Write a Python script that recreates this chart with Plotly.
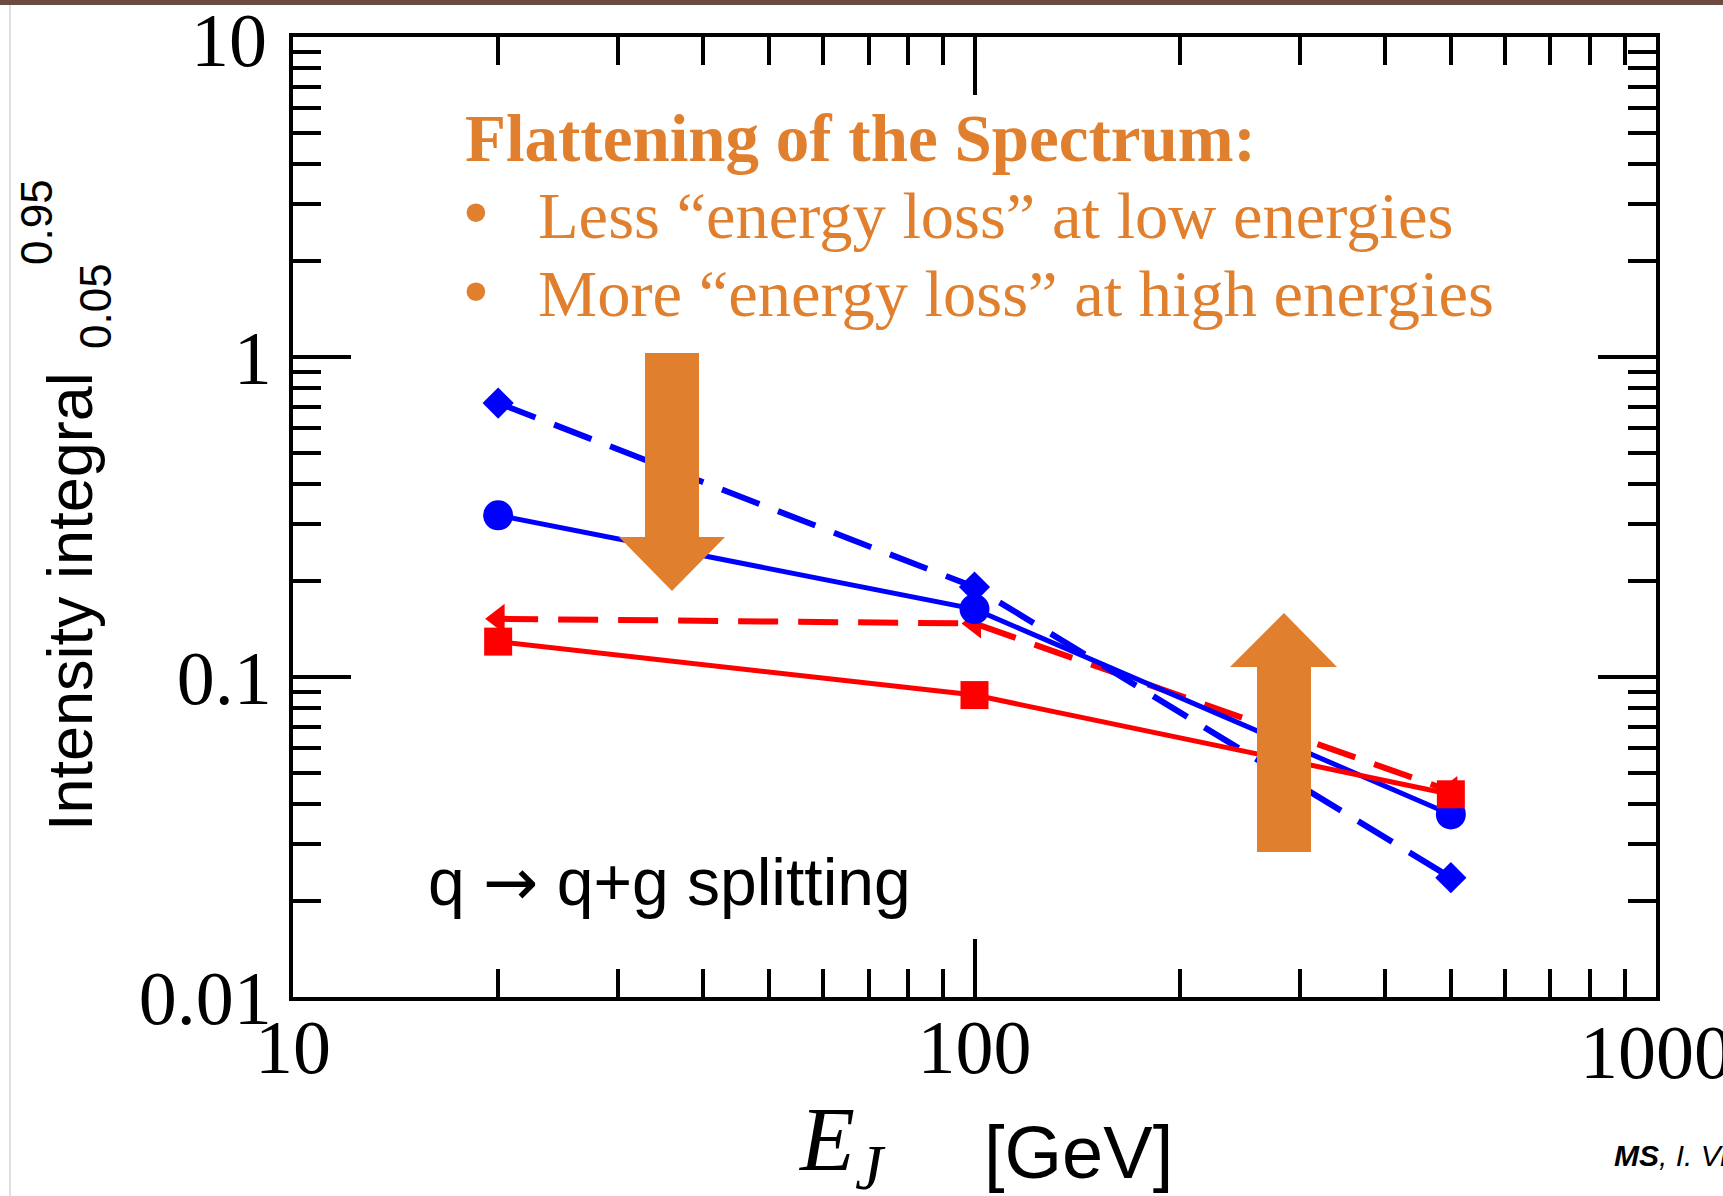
import plotly.graph_objects as go

# Jet energy (GeV) and the 5%-95% intensity integral for each configuration
energy = [20, 100, 500]
blue_solid = [0.32, 0.163, 0.0372]     # circles
blue_dashed = [0.718, 0.191, 0.0236]   # diamonds
red_dashed = [0.152, 0.147, 0.044]     # left triangles
red_solid = [0.129, 0.0878, 0.043]     # squares

# Decade labels; the two at the far corners are placed as annotations on the
# same axes so that the part running past the page edge is simply clipped.
x_tick_vals = [10, 100]
x_tick_text = ["10", "100"]
x_corner_val, x_corner_text = 1000, "1000"
y_tick_vals = [0.01, 0.1, 1]
y_tick_text = ["0.01", "0.1", "1"]
y_corner_val, y_corner_text = 10, "10"

W, H = 1723, 1196
L, R, T, B = 293, 1656, 37, 997          # plot-area edges in pixels
ORANGE = "#E0802E"
BLUE = "#0000FF"
RED = "#FF0000"
TICK_FONT = dict(family="Liberation Serif", size=76, color="black")


def px(x):
    return (x - L) / (R - L)


def py(y):
    return (B - y) / (B - T)


fig = go.Figure()

series = [
    (energy, red_dashed, RED, "dash", "triangle-left", 26),
    (energy, blue_dashed, BLUE, "dash", "diamond", 24),
    (energy, blue_solid, BLUE, "solid", "circle", 30),
    (energy, red_solid, RED, "solid", "square", 28),
]
for xs, ys, col, dash, sym, size in series:
    is_dash = dash == "dash"
    fig.add_trace(go.Scatter(
        x=xs, y=ys, mode="lines+markers",
        line=dict(color=col, width=6 if is_dash else 5,
                  dash="40px,20px" if is_dash else "solid"),
        marker=dict(symbol=sym, size=size, color=col, line=dict(width=0)),
        showlegend=False, hoverinfo="skip",
    ))

axis_common = dict(
    type="log", showgrid=False, zeroline=False,
    showline=True, linecolor="black", linewidth=4, mirror="allticks",
    ticks="inside", ticklen=58, tickwidth=4, tickcolor="black",
    minor=dict(ticks="inside", ticklen=28, tickwidth=4, tickcolor="black",
               dtick="D1", showgrid=False),
    tickfont=TICK_FONT,
)

fig.update_xaxes(range=[1, 3], tickvals=x_tick_vals, ticktext=x_tick_text,
                 ticklabelstandoff=-19, **axis_common)
fig.update_yaxes(range=[-2, 1], tickvals=y_tick_vals, ticktext=y_tick_text,
                 ticklabelstandoff=2, **axis_common)

# Block arrows (down: less loss at low E, up: more loss at high E)
def arrow_path(pts):
    return "M " + " L ".join(f"{px(a):.5f},{py(b):.5f}" for a, b in pts) + " Z"

down = [(645, 353), (699, 353), (699, 537), (725, 537), (672, 591),
        (619, 537), (645, 537)]
up = [(1257, 852), (1311, 852), (1311, 667), (1337, 667), (1284, 613),
      (1230, 667), (1257, 667)]
for pts in (down, up):
    fig.add_shape(type="path", xref="paper", yref="paper", path=arrow_path(pts),
                  fillcolor=ORANGE, line=dict(width=0), layer="above")

# Slide frame: top bar and thin left rule
fig.add_shape(type="rect", xref="paper", yref="paper",
              x0=px(0), x1=px(W), y0=py(5), y1=py(0),
              fillcolor="#6E4B40", line=dict(width=0), layer="above")
fig.add_shape(type="line", xref="paper", yref="paper",
              x0=px(10), x1=px(10), y0=py(H), y1=py(5),
              line=dict(color="#D6D6D6", width=1.5), layer="above")

ann = []
serif = "Liberation Serif"
sans = "Liberation Sans"

# Corner decade labels, positioned through the log axes
ann.append(dict(xref="paper", x=px(269), yref="y", y=1, yshift=-3,
                text=y_corner_text, font=TICK_FONT,
                xanchor="right", yanchor="middle"))
ann.append(dict(xref="x", x=3, yref="paper", y=py(1052),
                text=x_corner_text, font=TICK_FONT,
                xanchor="center", yanchor="middle"))

ann.append(dict(x=px(463), y=py(138), text="<b>Flattening of the Spectrum:</b>",
                font=dict(family=serif, size=67, color=ORANGE),
                xanchor="left", yanchor="middle"))
ann.append(dict(x=px(455), y=py(215), text="•",
                font=dict(family="DejaVu Sans", size=64, color=ORANGE),
                xanchor="left", yanchor="middle"))
ann.append(dict(x=px(536), y=py(215), text="Less “energy loss” at low energies",
                font=dict(family=serif, size=66.5, color=ORANGE),
                xanchor="left", yanchor="middle"))
ann.append(dict(x=px(455), y=py(294), text="•",
                font=dict(family="DejaVu Sans", size=64, color=ORANGE),
                xanchor="left", yanchor="middle"))
ann.append(dict(x=px(536), y=py(293), text="More “energy loss” at high energies",
                font=dict(family=serif, size=66.5, color=ORANGE),
                xanchor="left", yanchor="middle"))

ann.append(dict(x=px(426), y=py(882),
                text="q <span style=\"font-family:'DejaVu Sans'\">→</span> q+g splitting",
                font=dict(family=sans, size=66, color="black"),
                xanchor="left", yanchor="middle"))

# Y-axis title with stacked integration limits
ann.append(dict(x=px(70), y=py(602), text="Intensity integral", textangle=-90,
                font=dict(family=sans, size=63, color="black"),
                xanchor="center", yanchor="middle"))
ann.append(dict(x=px(96), y=py(306), text="0.05", textangle=-90,
                font=dict(family=sans, size=44, color="black"),
                xanchor="center", yanchor="middle"))
ann.append(dict(x=px(36), y=py(222), text="0.95", textangle=-90,
                font=dict(family=sans, size=44, color="black"),
                xanchor="center", yanchor="middle"))

# X-axis title
ann.append(dict(x=px(796), y=py(1146), text="<i>E</i><sub><i>J</i></sub>",
                font=dict(family=serif, size=90, color="black"),
                xanchor="left", yanchor="middle"))
ann.append(dict(x=px(982), y=py(1152), text="[GeV]",
                font=dict(family=sans, size=74, color="black"),
                xanchor="left", yanchor="middle"))

ann.append(dict(x=px(1612), y=py(1155), text="<b><i>MS</i></b><i>, I. Vitev</i>",
                font=dict(family=sans, size=30, color="black"),
                xanchor="left", yanchor="middle"))

for a in ann:
    a.setdefault("xref", "paper")
    a.setdefault("yref", "paper")
    a["showarrow"] = False

fig.update_layout(
    width=W, height=H,
    margin=dict(l=L, r=W - R, t=T, b=H - B, pad=0),
    paper_bgcolor="white", plot_bgcolor="white",
    annotations=ann,
)

fig.write_html("out.html", include_plotlyjs=True, full_html=True,
               config={"displayModeBar": False})
